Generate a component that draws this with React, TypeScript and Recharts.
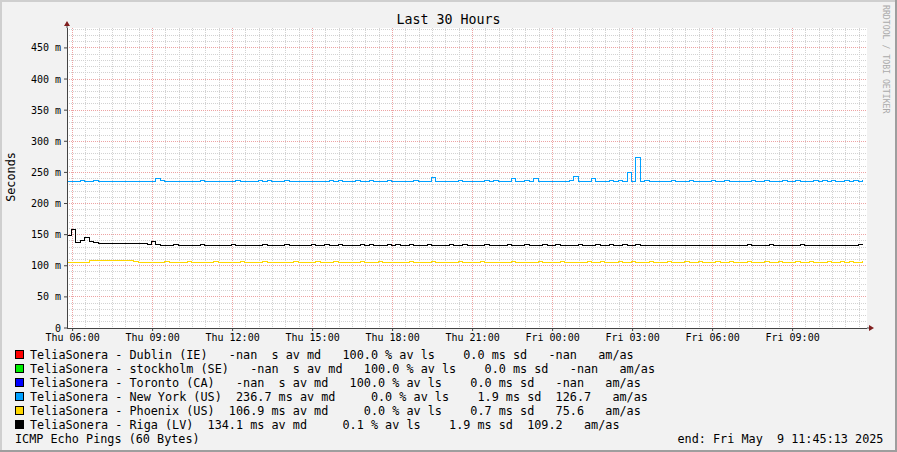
import React from "react";
import {
  LineChart,
  Line,
  Area,
  XAxis,
  YAxis,
  CartesianGrid,
  ReferenceDot,
} from "recharts";

// hours since Thu 00:00, one sample every 10 minutes
const startHour = 5.79;
const endHour = 35.79;
const times = Array.from({ length: 180 }, (_, i) => startHour + i / 6);

// medians in ms
const newYork = [
  236, 236, 236, 237.5, 236, 236, 237.5, 236, 236, 236, 236, 236, 236, 236, 235, 236, 236, 236, 236, 236,
  240, 237.5, 236, 236, 236, 236, 236, 236, 236, 236, 237.5, 236, 236, 236, 236, 236, 236, 236, 237.5, 236,
  236, 236, 236, 237.5, 236, 237.5, 236, 236, 236, 237.5, 236, 236, 236, 236, 236, 236, 236, 236, 236, 237.5,
  236, 237.5, 236, 236, 236, 237.5, 236, 236, 237.5, 236, 236, 236, 237.5, 236, 236, 236, 236, 236, 237.5, 236,
  236, 236, 242, 236, 236, 236, 236, 236, 237.5, 236, 236, 236, 236, 236, 237.5, 236, 237.5, 236, 236, 236,
  240, 236, 236, 237.5, 236, 241, 236, 236, 236, 236, 236, 236, 236, 237.5, 243, 236, 236, 236, 240, 236,
  236, 236, 237.5, 236, 237.5, 236, 250, 236, 274, 236, 237.5, 236, 236, 236, 236, 236, 237.5, 236, 236, 236,
  237.5, 236, 236, 236, 236, 237.5, 236, 236, 237.5, 236, 236, 236, 236, 236, 237.5, 236, 236, 237.5, 236, 236,
  236, 237.5, 236, 236, 237.5, 236, 236, 236, 237.5, 236, 237.5, 236, 237.5, 236, 236, 237.5, 236, 237.5, 236, 237.5,
];

const phoenix = [
  106, 106, 106, 106, 106, 109, 109, 108, 109, 109, 108, 109, 109, 109, 109, 107, 106, 106, 106, 106,
  106, 106, 107.5, 106, 106, 106, 106, 107.5, 106, 106, 106, 106, 106, 107.5, 106, 106, 106, 106, 106, 107.5,
  106, 106, 106, 106, 107.5, 106, 106, 106, 106, 106, 106, 107.5, 106, 106, 106, 106, 107.5, 106, 106, 106,
  107.5, 106, 106, 106, 106, 106, 107.5, 106, 106, 106, 107.5, 106, 106, 106, 106, 106, 106, 107.5, 106, 106,
  106, 106, 107.5, 106, 106, 106, 106, 106, 107.5, 106, 106, 106, 106, 107.5, 106, 106, 106, 106, 106, 106,
  107.5, 106, 106, 106, 106, 106, 107.5, 106, 106, 106, 106, 107.5, 106, 106, 106, 106, 106, 107.5, 106, 106,
  107.5, 106, 106, 106, 107.5, 106, 106, 107.5, 106, 106, 106, 107.5, 106, 106, 106, 107.5, 106, 106, 106, 107.5,
  106, 106, 107.5, 106, 106, 106, 107.5, 106, 106, 107.5, 106, 106, 106, 107.5, 106, 106, 106, 107.5, 106, 106,
  107.5, 106, 106, 106, 107.5, 106, 106, 107.5, 106, 106, 106, 107.5, 106, 106, 107.5, 106, 107.5, 106, 106, 107.5,
];

const riga = [
  148, 158, 137, 141, 145, 139, 137, 136, 135, 135, 135, 135, 135, 135, 135, 135, 135, 135, 134, 139,
  134, 133, 133, 133, 134.5, 133, 133, 133, 133, 133, 134.5, 133, 133, 133, 133, 133, 133, 134.5, 133, 133,
  133, 133, 133, 133, 134.5, 133, 133, 133, 133, 134.5, 133, 133, 133, 133, 133, 134.5, 133, 133, 134.5, 133,
  133, 134.5, 133, 133, 133, 133, 134.5, 133, 134.5, 133, 133, 133, 134.5, 133, 134.5, 133, 133, 134.5, 133, 133,
  133, 134.5, 133, 133, 133, 133, 134.5, 133, 133, 134.5, 133, 133, 133, 133, 134.5, 133, 133, 133, 133, 134.5,
  133, 133, 133, 134.5, 133, 133, 133, 134.5, 133, 133, 134.5, 133, 133, 133, 133, 134.5, 133, 133, 133, 134.5,
  133, 133, 134.5, 133, 133, 134.5, 133, 133, 134.5, 133, 133, 133, 133, 133, 133, 133, 133, 133, 133, 133,
  133, 133, 133, 133, 133, 133, 133, 133, 133, 133, 133, 133, 133, 134.5, 133, 133, 133, 133, 134.5, 133,
  133, 133, 133, 133, 133, 134.5, 133, 133, 133, 133, 133, 133, 133, 133, 133, 133, 133, 133, 134.5, 133,
];

// faint "smoke" around the New York spike
const smokeIdx = [126, 127, 128, 129];
const smokeLow = [225, 235, 240, 240];
const smokeHigh = [258, 237, 294, 294];

const yTicks = [0, 50, 100, 150, 200, 250, 300, 350, 400, 450];
const xTicks = [6, 9, 12, 15, 18, 21, 24, 27, 30, 33];

// legend
const hosts = ["Dublin (IE)", "stockholm (SE)", "Toronto (CA)", "New York (US)", "Phoenix (US)", "Riga (LV)"];
const hostColors = ["#ff0000", "#00ee00", "#0000ff", "#00a0ff", "#ffd700", "#000000"];
const avgMedian = [NaN, NaN, NaN, 236.7, 106.9, 134.1];
const avgLoss = [100, 100, 100, 0, 0, 0.1];
const avgSdev = [0, 0, 0, 1.9, 0.7, 1.9];
const avgAmas = [NaN, NaN, NaN, 126.7, 75.6, 109.2];

const minorY: number[] = [];
for (let v = 10; v < 482; v += 10) if (v % 50 !== 0) minorY.push(v);
const majorY = yTicks.filter((v) => v > 0);
const minorX: number[] = [];
for (let h = 6; h < endHour; h += 0.5) if (h % 3 !== 0) minorX.push(h);

const data = times.map((t, i) => {
  const k = smokeIdx.indexOf(i);
  return {
    t,
    ny: newYork[i],
    phx: phoenix[i],
    riga: riga[i],
    smoke: k >= 0 ? [smokeLow[k], smokeHigh[k]] : null,
  };
});

const mono = '"DejaVu Sans Mono", monospace';

const fmt = (v: number, w: number) => (isNaN(v) ? "-nan" : v.toFixed(1)).padStart(w);

function legendLine(i: number) {
  return (
    "TeliaSonera - " + hosts[i] +
    " " + fmt(avgMedian[i], 6) + " " + (isNaN(avgMedian[i]) ? " " : "m") + "s av md" +
    " " + fmt(avgLoss[i], 7) + " % av ls" +
    " " + fmt(avgSdev[i], 6) + " ms sd" +
    " " + fmt(avgAmas[i], 6) + "   am/as"
  );
}

const hourLabel = (t: number) =>
  `${t < 24 ? "Thu" : "Fri"} ${String(t % 24).padStart(2, "0")}:00`;

const XArrow = (p: any) => (
  <g>
    <line x1={p.cx} y1={p.cy} x2={p.cx + 3} y2={p.cy} stroke="#444" />
    <polygon points={`${p.cx + 2},${p.cy - 3} ${p.cx + 7},${p.cy} ${p.cx + 2},${p.cy + 3}`} fill="#801f1f" />
  </g>
);

const YArrow = (p: any) => (
  <g>
    <line x1={p.cx} y1={p.cy} x2={p.cx} y2={p.cy - 3} stroke="#444" />
    <polygon points={`${p.cx - 3},${p.cy - 2} ${p.cx},${p.cy - 7} ${p.cx + 3},${p.cy - 2}`} fill="#801f1f" />
  </g>
);

export default function App() {
  const rowTop = 348;
  return (
    <div
      style={{
        position: "fixed",
        left: 0,
        top: 0,
        width: 897,
        height: 452,
        background: "#f2f2f2",
        fontFamily: mono,
        overflow: "hidden",
      }}
    >
      {/* frame shading */}
      <div style={{ position: "absolute", left: 0, top: 0, width: 897, height: 2, background: "#cfcfcf" }} />
      <div style={{ position: "absolute", left: 0, top: 0, width: 2, height: 452, background: "#cfcfcf" }} />
      <div style={{ position: "absolute", left: 0, top: 450, width: 897, height: 2, background: "#9e9e9e" }} />
      <div style={{ position: "absolute", left: 895, top: 0, width: 2, height: 452, background: "#9e9e9e" }} />

      <div
        style={{
          position: "absolute",
          left: 0,
          top: 12,
          width: 897,
          textAlign: "center",
          fontSize: 13.3,
          lineHeight: "16px",
          whiteSpace: "pre",
        }}
      >
        Last 30 Hours
      </div>

      <div
        style={{
          position: "absolute",
          left: 11,
          top: 177,
          transform: "translate(-50%, -50%) rotate(-90deg)",
          fontSize: 11.8,
          lineHeight: "14px",
          whiteSpace: "pre",
        }}
      >
        Seconds
      </div>

      <div
        style={{
          position: "absolute",
          left: 881,
          top: 5,
          writingMode: "vertical-rl",
          fontSize: 8.2,
          lineHeight: "10px",
          color: "#aaaaaa",
          whiteSpace: "pre",
        }}
      >
        RRDTOOL / TOBI OETIKER
      </div>

      <div style={{ position: "absolute", left: 0, top: 0 }}>
        <LineChart
          width={897}
          height={452}
          data={data}
          margin={{ top: 28, right: 30, bottom: 104, left: 0 }}
        >
          <CartesianGrid horizontal={false} vertical={false} fill="#ffffff" stroke="none" />
          <CartesianGrid
            horizontalValues={minorY}
            verticalValues={minorX}
            stroke="#d2d2d2"
            strokeDasharray="1 1"
            shapeRendering="crispEdges"
          />
          <CartesianGrid
            horizontalValues={majorY}
            verticalValues={xTicks}
            stroke="#eda3a3"
            strokeDasharray="1 1"
            shapeRendering="crispEdges"
          />
          <XAxis
            dataKey="t"
            type="number"
            domain={[startHour, endHour]}
            ticks={xTicks}
            interval={0}
            allowDataOverflow
            height={20}
            tickFormatter={hourLabel}
            tick={{ fontSize: 10, fill: "#000", fontFamily: mono }}
            tickSize={3}
            tickMargin={3}
            tickLine={{ stroke: "#444" }}
            axisLine={{ stroke: "#444", shapeRendering: "crispEdges" }}
          />
          <YAxis
            type="number"
            domain={[0, 482]}
            ticks={yTicks}
            interval={0}
            allowDataOverflow
            width={67}
            tickFormatter={(v: number) => (v === 0 ? "0" : `${v} m`)}
            tick={{ fontSize: 10, fill: "#000", fontFamily: mono }}
            tickSize={3}
            tickMargin={3}
            tickLine={{ stroke: "#444" }}
            axisLine={{ stroke: "#444", shapeRendering: "crispEdges" }}
          />
          <Area
            dataKey="smoke"
            type="stepAfter"
            stroke="none"
            fill="#00a0ff"
            fillOpacity={0.18}
            connectNulls={false}
            isAnimationActive={false}
          />
          <Line
            dataKey="ny"
            type="stepAfter"
            stroke="#00a0ff"
            strokeWidth={1}
            dot={false}
            activeDot={false}
            shapeRendering="crispEdges"
            isAnimationActive={false}
          />
          <Line
            dataKey="phx"
            type="stepAfter"
            stroke="#ffd700"
            strokeWidth={1}
            dot={false}
            activeDot={false}
            shapeRendering="crispEdges"
            isAnimationActive={false}
          />
          <Line
            dataKey="riga"
            type="stepAfter"
            stroke="#000000"
            strokeWidth={1}
            dot={false}
            activeDot={false}
            shapeRendering="crispEdges"
            isAnimationActive={false}
          />
          <ReferenceDot x={endHour} y={0} r={0} ifOverflow="visible" shape={XArrow} />
          <ReferenceDot x={startHour} y={482} r={0} ifOverflow="visible" shape={YArrow} />
        </LineChart>
      </div>

      {hosts.map((h, i) => (
        <React.Fragment key={h}>
          <div
            style={{
              position: "absolute",
              left: 15,
              top: 350 + i * 14,
              width: 7,
              height: 7,
              background: hostColors[i],
              border: "1px solid #000",
            }}
          />
          <div
            style={{
              position: "absolute",
              left: 30,
              top: rowTop + i * 14,
              fontSize: 11.8,
              lineHeight: "14px",
              whiteSpace: "pre",
            }}
          >
            {legendLine(i)}
          </div>
        </React.Fragment>
      ))}
      <div
        style={{
          position: "absolute",
          left: 15,
          top: rowTop + 6 * 14,
          fontSize: 11.8,
          lineHeight: "14px",
          whiteSpace: "pre",
        }}
      >
        ICMP Echo Pings (60 Bytes)
      </div>
      <div
        style={{
          position: "absolute",
          left: 677.5,
          top: rowTop + 6 * 14,
          fontSize: 11.8,
          lineHeight: "14px",
          whiteSpace: "pre",
        }}
      >
        end: Fri May  9 11:45:13 2025
      </div>
    </div>
  );
}
